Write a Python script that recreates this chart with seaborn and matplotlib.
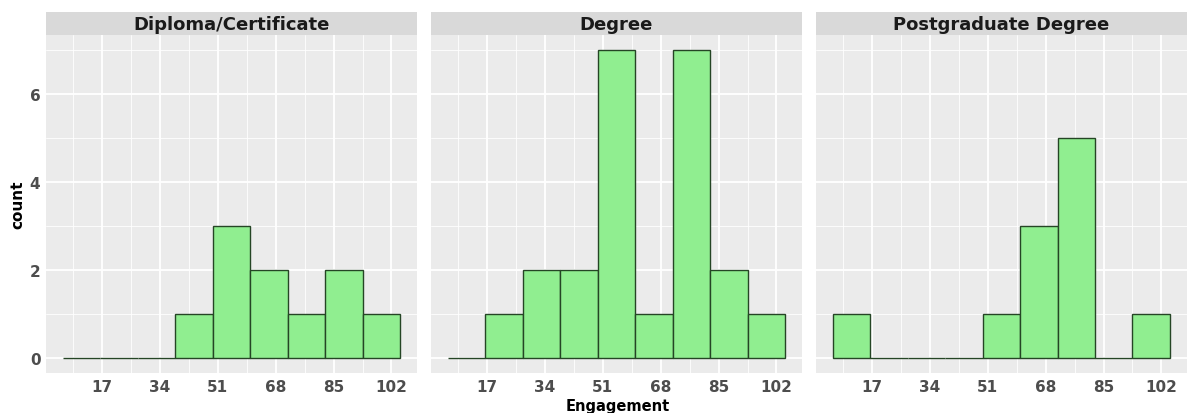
import numpy as np
import pandas as pd
import seaborn as sns
import matplotlib.pyplot as plt
from matplotlib.patches import Rectangle

# histogram counts (bin width 11, centres 11..99)
qualifications = ['Diploma/Certificate', 'Degree', 'Postgraduate Degree']
bin_centers = [11, 22, 33, 44, 55, 66, 77, 88, 99]
diploma_counts = [0, 0, 0, 1, 3, 2, 1, 2, 1]
degree_counts = [0, 1, 2, 2, 7, 1, 7, 2, 1]
postgrad_counts = [1, 0, 0, 0, 1, 3, 5, 0, 1]
x_ticks = [17, 34, 51, 68, 85, 102]
y_ticks = [0, 2, 4, 6]

counts = {
    'Diploma/Certificate': diploma_counts,
    'Degree': degree_counts,
    'Postgraduate Degree': postgrad_counts,
}
rows = []
for q in qualifications:
    for c, n in zip(bin_centers, counts[q]):
        rows.append({'Qualification': q, 'Engagement': c, 'count': n})
df = pd.DataFrame(rows)

half = (bin_centers[1] - bin_centers[0]) / 2
edges = [c - half for c in bin_centers] + [bin_centers[-1] + half]

sns.set_theme(style='darkgrid', rc={
    'axes.facecolor': '#EBEBEB',
    'grid.color': 'white',
    'axes.edgecolor': 'none',
})
plt.rcParams['font.family'] = ['DejaVu Sans']

g = sns.FacetGrid(df, col='Qualification', col_order=qualifications,
                  sharey=True, sharex=True, despine=False)
g.map_dataframe(sns.histplot, x='Engagement', weights='count', bins=edges,
                color='#90EE90', edgecolor='#254525', linewidth=1.0, alpha=1)
g.figure.set_size_inches(11.88, 4.14)
g.figure.subplots_adjust(left=0.0387, right=0.999, bottom=0.0966, top=0.913,
                         wspace=0.038)
g.set_titles('')

lo, hi = edges[0], edges[-1]
pad = (hi - lo) * 0.05
for i, (ax, q) in enumerate(zip(g.axes.flat, qualifications)):
    ax.set_xlim(lo - pad, hi + pad)
    ax.set_ylim(-0.35, 7.35)
    ax.set_xticks(x_ticks)
    ax.set_xticks([t - 8.5 for t in x_ticks], minor=True)
    ax.set_yticks(y_ticks)
    ax.set_yticks([t + 1 for t in y_ticks], minor=True)
    ax.grid(which='major', color='white', linewidth=1.3)
    ax.grid(which='minor', color='white', linewidth=0.6)
    ax.set_axisbelow(True)
    ax.tick_params(which='major', length=3, width=0.8, color='#333333',
                   labelcolor='#4D4D4D', labelsize=11, pad=1)
    ax.tick_params(which='minor', length=0)
    for lab in ax.get_xticklabels() + ax.get_yticklabels():
        lab.set_fontweight('bold')
    if i > 0:
        ax.tick_params(axis='y', left=False, labelleft=False)
    ax.set_xlabel('')
    ax.set_ylabel('')
    for s in ax.spines.values():
        s.set_visible(False)
    # ggplot-like strip
    strip = Rectangle((0, 1.0), 1, 0.067, transform=ax.transAxes,
                      facecolor='#D9D9D9', edgecolor='none', clip_on=False)
    ax.add_patch(strip)
    ax.text(0.5, 1.0335, q, transform=ax.transAxes, ha='center', va='center',
            fontsize=13, fontweight='bold', color='#1A1A1A')

g.axes.flat[0].set_ylabel('count', fontsize=11, fontweight='bold',
                          color='black', labelpad=3)
g.figure.text(0.52, 0.0, 'Engagement', ha='center', va='bottom',
              fontsize=10.5, fontweight='bold', color='black')

g.figure.savefig('out.png', dpi=100)
